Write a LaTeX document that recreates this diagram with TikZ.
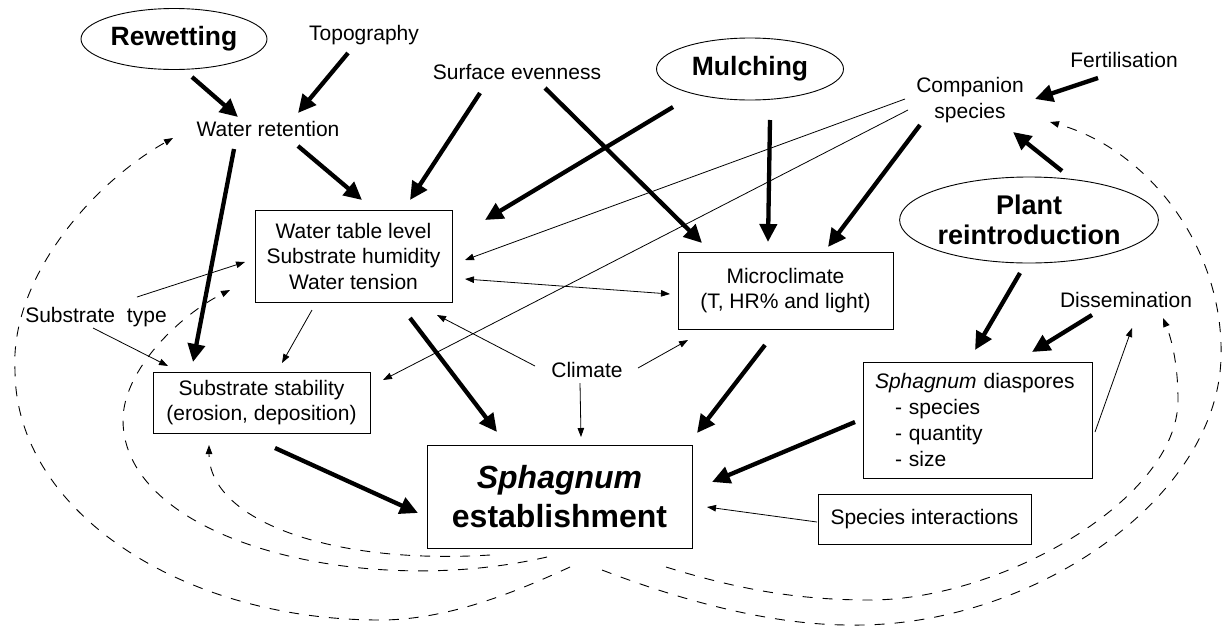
\documentclass[tikz,border=0pt]{standalone}
\usepackage{fontspec}
\setmainfont{Liberation Sans}
\usetikzlibrary{arrows.meta,shapes.geometric}
\begin{document}
\begin{tikzpicture}[x=1pt,y=-1pt,
  txt/.style={font=\fontsize{21}{26}\selectfont, inner sep=0pt, align=center},
  boxn/.style={draw, line width=0.9pt, font=\fontsize{21}{25.5}\selectfont, align=center, inner sep=0pt},
  ell/.style={draw, ellipse, line width=0.9pt, inner sep=0pt, font=\bfseries\fontsize{26.5}{30}\selectfont, align=center},
  thk/.style={line width=4.3pt, -{Triangle[length=18pt,width=17pt]}},
  thn/.style={line width=0.8pt, -{Triangle[length=9pt,width=6.5pt]}},
  thnboth/.style={line width=0.8pt, {Triangle[length=9pt,width=6.5pt]}-{Triangle[length=9pt,width=6.5pt]}},
  dsh/.style={line width=0.9pt, dash pattern=on 10pt off 10pt, -{Triangle[length=9pt,width=6.5pt]}},
]
\useasboundingbox (0,0) rectangle (1225,627);

% nodes
\node[ell, minimum width=186pt, minimum height=61pt] (rew) at (174,39) {Rewetting};
\node[txt] (topo) at (364,35) {Topography};
\node[txt] (wr) at (268,129) {Water retention};
\node[txt] (surf) at (517,72) {Surface evenness};
\node[ell, minimum width=187pt, minimum height=62pt] (mul) at (750,69) {Mulching};
\node[txt] (fert) at (1124,60) {Fertilisation};
\node[txt] (comp) at (970,100) {Companion\\species};
\node[ell, minimum width=242pt, minimum height=86pt, font=\bfseries\fontsize{27}{30}\selectfont] (plant) at (1029,220) {Plant\\reintroduction};
\node[txt] (diss) at (1126,300) {Dissemination};
\node[boxn, minimum width=197pt, minimum height=92pt] (wt) at (353.5,256) {Water table level\\Substrate humidity\\Water tension};
\node[boxn, minimum width=215pt, minimum height=77pt] (mc) at (785.5,290.5) {Microclimate\\(T, HR\% and light)};
\node[txt] (stype) at (96,317) {Substrate\hspace{6pt} type};
\node[boxn, minimum width=217pt, minimum height=61pt] (ss) at (261.5,402.5) {Substrate stability\\(erosion, deposition)};
\node[txt] (clim) at (587,370) {Climate};
\node[boxn, minimum width=265pt, minimum height=103pt, font=\bfseries\fontsize{32}{39}\selectfont] (se) at (559.5,496.5) {\textit{Sphagnum}\\establishment};
\node[boxn, minimum width=229pt, minimum height=116pt, text width=205pt, align=left, inner xsep=12pt, font=\fontsize{21}{26}\selectfont] (dia) at (977.5,420) {\textit{Sphagnum} diaspores\\\hspace*{20pt}- species\\\hspace*{20pt}- quantity\\\hspace*{20pt}- size};
\node[boxn, minimum width=213pt, minimum height=50pt] (si) at (924.5,519) {Species interactions};

% thick arrows
\draw[thk] ([shift={(18,38)}]rew.center) -- ([shift={(-30,-12)}]wr.center);
\draw[thk] ([shift={(-16,18)}]topo.center) -- ([shift={(30,-16)}]wr.center);
\draw[thk] ([shift={(30,17)}]wr.center) -- ([shift={(8.5,-56)}]wt.center);
\draw[thk] ([shift={(-34,20)}]wr.center) -- ([shift={(-68.5,-40.5)}]ss.center);
\draw[thk] ([shift={(-37,21)}]surf.center) -- ([shift={(56.5,-56)}]wt.center);
\draw[thk] ([shift={(28,16)}]surf.center) -- ([shift={(-83.5,-47.5)}]mc.center);
\draw[thk] ([shift={(-77,38)}]mul.center) -- ([shift={(131.5,-36)}]wt.center);
\draw[thk] ([shift={(20,51)}]mul.center) -- ([shift={(-17.5,-48.5)}]mc.center);
\draw[thk] ([shift={(-50,25)}]comp.center) -- ([shift={(42.5,-43.5)}]mc.center);
\draw[thk] ([shift={(-26,18)}]fert.center) -- ([shift={(65,-1)}]comp.center);
\draw[thk] ([shift={(33,-49)}]plant.center) -- ([shift={(43,32)}]comp.center);
\draw[thk] ([shift={(-9,53)}]plant.center) -- ([shift={(-2.5,-70)}]dia.center);
\draw[thk] ([shift={(-34,15)}]diss.center) -- ([shift={(54.5,-68)}]dia.center);
\draw[thk] ([shift={(56.5,62)}]wt.center) -- ([shift={(-62.5,-64.5)}]se.center);
\draw[thk] ([shift={(-20.5,54.5)}]mc.center) -- ([shift={(137.5,-63.5)}]se.center);
\draw[thk] ([shift={(-122.5,2)}]dia.center) -- ([shift={(152.5,-14.5)}]se.center);
\draw[thk] ([shift={(13.5,45.5)}]ss.center) -- ([shift={(-141.5,16.5)}]se.center);

% thin arrows
\draw[thn] ([shift={(-65,-1)}]comp.center) -- ([shift={(111.5,4)}]wt.center);
\draw[thn] ([shift={(-62,10)}]comp.center) -- ([shift={(121.5,-22.5)}]ss.center);
\draw[thnboth] ([shift={(111.5,23)}]wt.center) -- ([shift={(-115.5,3.5)}]mc.center);
\draw[thn] ([shift={(41,-20)}]stype.center) -- ([shift={(-108.5,6)}]wt.center);
\draw[thn] ([shift={(-3,11)}]stype.center) -- ([shift={(-93.5,-36.5)}]ss.center);
\draw[thn] ([shift={(-41.5,54)}]wt.center) -- ([shift={(20.5,-39.5)}]ss.center);
\draw[thn] ([shift={(-52,-4)}]clim.center) -- ([shift={(83.5,59)}]wt.center);
\draw[thn] ([shift={(51,-2)}]clim.center) -- ([shift={(-97.5,49.5)}]mc.center);
\draw[thn] ([shift={(-7,13)}]clim.center) -- ([shift={(21.5,-59.5)}]se.center);
\draw[thn] ([shift={(-107.5,3)}]si.center) -- ([shift={(147.5,10.5)}]se.center);
\draw[thn] ([shift={(117.5,12)}]dia.center) -- ([shift={(6,28)}]diss.center);

% dashed feedback curves
\draw[dsh] ([shift={(10.5,70.5)}]se.center) .. controls (520,590) and (450,620) .. (380,620)
  .. controls (180,620) and (15,510) .. (15,370)
  .. controls (10,280) and (90,185) .. ([shift={(-95,9)}]wr.center);
\draw[dsh] ([shift={(-12.5,60.5)}]se.center) .. controls (360,600) and (123,540) .. (123,420)
  .. controls (123,370) and (180,315) .. ([shift={(-123.5,34)}]wt.center);
\draw[dsh] ([shift={(-69.5,58.5)}]se.center) .. controls (330,565) and (209,520) .. ([shift={(-52.5,42.5)}]ss.center);
\draw[dsh] ([shift={(42.5,73.5)}]se.center) .. controls (680,600) and (770,625) .. (850,625)
  .. controls (1030,628) and (1218,500) .. (1221,357)
  .. controls (1224,250) and (1150,150) .. ([shift={(80,22)}]comp.center);
\draw[dsh] ([shift={(106.5,70.5)}]se.center) .. controls (740,590) and (800,600) .. (870,600)
  .. controls (1000,600) and (1178,500) .. (1178,400)
  .. controls (1178,360) and (1170,335) .. ([shift={(37,18)}]diss.center);
\end{tikzpicture}
\end{document}
